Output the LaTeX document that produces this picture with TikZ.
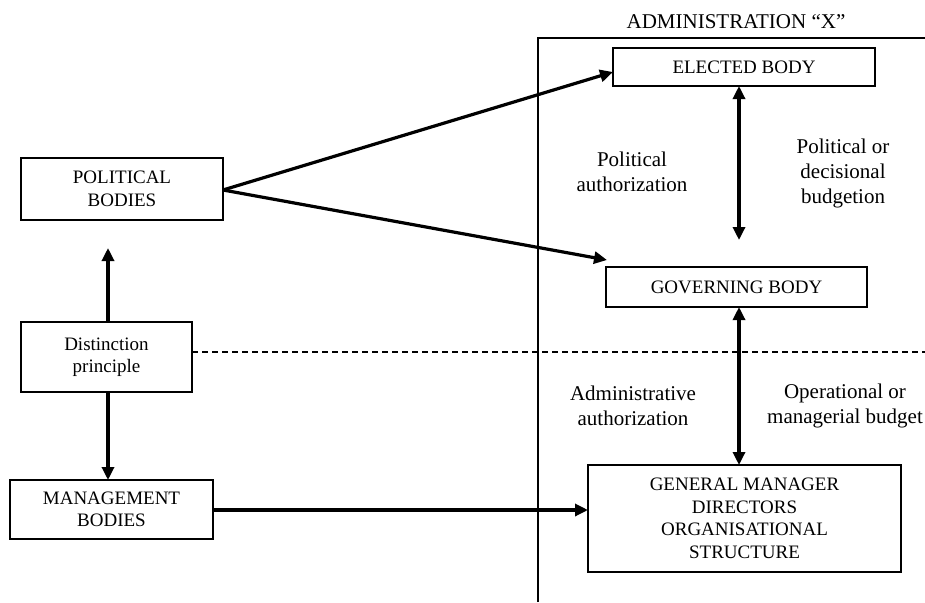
\documentclass[tikz,border=0pt]{standalone}
\usepackage{fontspec}
\setmainfont{Liberation Serif}
\usetikzlibrary{arrows.meta}
\begin{document}
\begin{tikzpicture}[x=1pt,y=-1pt,
  box/.style={draw, line width=1.4pt, align=center, inner sep=0pt,
    font=\fontsize{19}{22.5}\selectfont},
  lbl/.style={align=center, inner sep=0pt, font=\fontsize{21}{25}\selectfont},
  tip/.style={},
  arr/.style={line width=3.2pt, -{Triangle[length=13pt,width=12pt]}},
  darr/.style={line width=3.2pt, {Triangle[length=13pt,width=12pt]}-{Triangle[length=13pt,width=12pt]}},
  frame/.style={line width=1.2pt}]
\useasboundingbox (0,0) rectangle (925,602);
% frame of administration
\coordinate (fb) at (538,602);
\coordinate (ft) at (538,38);
\coordinate (fr) at (925,38);
\draw[frame] (fb) -- (ft) -- (fr);
\node[lbl] (title) at (736,22) {ADMINISTRATION “X”};
% boxes
\node[box, minimum width=202pt, minimum height=62pt] (political) at (122,189) {POLITICAL\\BODIES};
\node[box, minimum width=171pt, minimum height=70pt] (distinction) at (106.5,357) {Distinction\\principle};
\node[box, minimum width=203pt, minimum height=59pt] (management) at (111.5,509.5) {MANAGEMENT\\BODIES};
\node[box, minimum width=262pt, minimum height=38pt] (elected) at (744,67) {ELECTED BODY};
\node[box, minimum width=261pt, minimum height=40pt] (governing) at (736.5,287) {GOVERNING BODY};
\node[box, minimum width=313pt, minimum height=107pt] (gm) at (744.5,518.5) {GENERAL MANAGER\\DIRECTORS\\ORGANISATIONAL\\STRUCTURE};
% labels
\node[lbl] (polauth) at (632,172) {Political\\authorization};
\node[lbl] (poldec) at (843,173) {Political or\\decisional\\budgetion};
\node[lbl] (admauth) at (633,406) {Administrative\\authorization};
\node[lbl] (opbud) at (845,406) {Operational or\\managerial budget};
% coordinates
\coordinate (dTop) at (108,322);
\coordinate (pTip) at (108,248);
\coordinate (dBot) at (108,392);
\coordinate (mTop) at (108,480);
\coordinate (pOut) at (223,190);
\coordinate (eTip) at (613,72);
\coordinate (gTip) at (607,260);
\coordinate (eBot) at (739,86);
\coordinate (eArr) at (739,240);
\coordinate (gBot) at (739,307);
\coordinate (gmTop) at (739,465);
\coordinate (mOut) at (212,510);
\coordinate (gmIn) at (588,510);
\coordinate (dashEnd) at (925,352);
\coordinate (dashStart) at (192,352);
% connectors
\draw[line width=1.9pt, dash pattern=on 6pt off 4pt] (dashStart) -- (dashEnd);
\draw[arr] (dTop) -- (pTip);
\draw[arr] (dBot) -- (mTop);
\draw[arr] (pOut) -- (eTip);
\draw[arr] (pOut) -- (gTip);
\draw[arr] (mOut) -- (gmIn);
\draw[darr] (eBot) -- (eArr);
\draw[darr] (gBot) -- (gmTop);
\end{tikzpicture}
\end{document}
